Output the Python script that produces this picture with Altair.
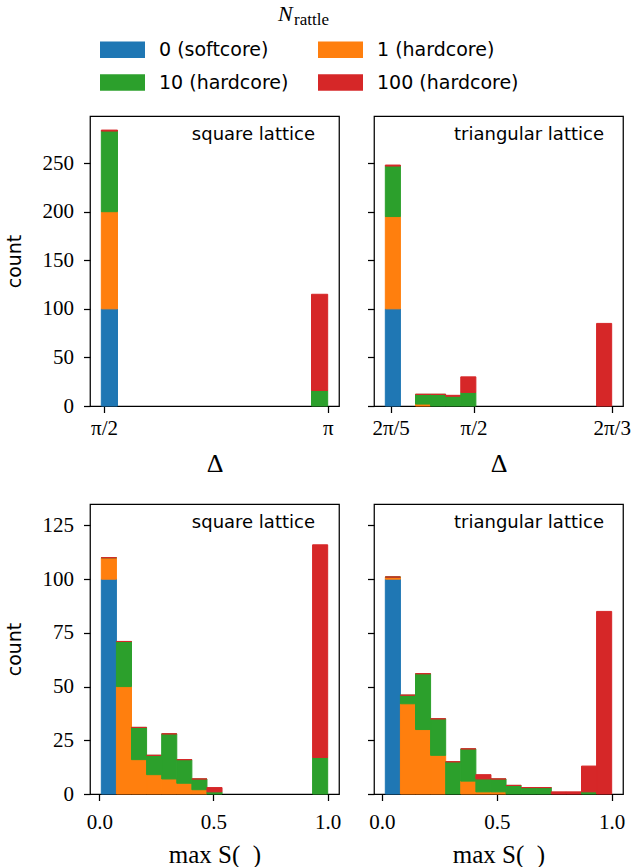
import numpy as np
import pandas as pd
import altair as alt

# ---------------- data ----------------
CATEGORIES = ["0 (softcore)", "1 (hardcore)", "10 (hardcore)", "100 (hardcore)"]
COLORS = ["#1f77b4", "#ff7f0e", "#2ca02c", "#d62728"]
LEGEND_ORDER = ["0 (softcore)", "10 (hardcore)", "1 (hardcore)", "100 (hardcore)"]
LEGEND_COLORS = ["#1f77b4", "#2ca02c", "#ff7f0e", "#d62728"]
LEGEND_TITLE_MAIN = "N"
LEGEND_TITLE_SUB = "rattle"

# Delta, square lattice (14 bins)
SQ_DELTA_BOUNDS = [1.552, np.pi]
SQ_DELTA_N0 = [100, 0, 0, 0, 0, 0, 0, 0, 0, 0, 0, 0, 0, 0]
SQ_DELTA_N1 = [100, 0, 0, 0, 0, 0, 0, 0, 0, 0, 0, 0, 0, 0]
SQ_DELTA_N10 = [83, 0, 0, 0, 0, 0, 0, 0, 0, 0, 0, 0, 0, 16]
SQ_DELTA_N100 = [1, 0, 0, 0, 0, 0, 0, 0, 0, 0, 0, 0, 0, 99]

# Delta, triangular lattice (15 bins)
TRI_DELTA_BOUNDS = [1.2366, 2 * np.pi / 3]
TRI_DELTA_N0 = [100, 0, 0, 0, 0, 0, 0, 0, 0, 0, 0, 0, 0, 0, 0]
TRI_DELTA_N1 = [95, 0, 2, 0, 0, 0, 0, 0, 0, 0, 0, 0, 0, 0, 0]
TRI_DELTA_N10 = [52, 0, 10, 12, 10, 14, 0, 0, 0, 0, 0, 0, 0, 0, 0]
TRI_DELTA_N100 = [1, 0, 0, 0, 1, 16, 0, 0, 0, 0, 0, 0, 0, 0, 85]

# max S, square lattice (15 bins)
SQ_S_BOUNDS = [0.0088, 1.0]
SQ_S_N0 = [100, 0, 0, 0, 0, 0, 0, 0, 0, 0, 0, 0, 0, 0, 0]
SQ_S_N1 = [10, 50, 16, 9, 7, 5, 2, 0, 0, 0, 0, 0, 0, 0, 0]
SQ_S_N10 = [0, 21, 15, 9, 21, 11, 5, 1, 0, 0, 0, 0, 0, 0, 17]
SQ_S_N100 = [0, 0, 0, 0, 0, 0, 0, 2, 0, 0, 0, 0, 0, 0, 99]

# max S, triangular lattice (15 bins)
TRI_S_BOUNDS = [0.0145, 1.0]
TRI_S_N0 = [100, 0, 0, 0, 0, 0, 0, 0, 0, 0, 0, 0, 0, 0, 0]
TRI_S_N1 = [1, 42, 30, 18, 0, 6, 1, 1, 0, 0, 0, 0, 0, 0, 0]
TRI_S_N10 = [0, 4, 26, 17, 15, 15, 6, 6, 4, 3, 3, 0, 0, 1, 0]
TRI_S_N100 = [0, 0, 0, 0, 0, 0, 2, 0, 0, 0, 0, 1, 1, 12, 85]

DELTA_SQ_TICKS = [np.pi / 2, np.pi]
DELTA_SQ_TICK_LABELS = ["π/2", "π"]
DELTA_TRI_TICKS = [2 * np.pi / 5, np.pi / 2, 2 * np.pi / 3]
DELTA_TRI_TICK_LABELS = ["2π/5", "π/2", "2π/3"]
S_TICKS = [0.0, 0.5, 1.0]
S_TICK_LABELS = ["0.0", "0.5", "1.0"]
TOP_Y_TICKS = [0, 50, 100, 150, 200, 250]
BOTTOM_Y_TICKS = [0, 25, 50, 75, 100, 125]
X_TITLE_DELTA = "Δ"
X_TITLE_S = "max S(\u00a0\u00a0)"

# ---------------- helpers ----------------
W, H = 249, 290
SERIF = "Liberation Serif"
SANS = "DejaVu Sans"


def build(bounds, counts_lists):
    nb = len(counts_lists[0])
    edges = np.linspace(bounds[0], bounds[1], nb + 1)
    rows = []
    for b in range(nb):
        base = 0
        for cat, counts in zip(CATEGORIES, counts_lists):
            c = counts[b]
            if c > 0 or base > 0:
                rows.append(dict(category=cat, x0=edges[b], x1=edges[b + 1],
                                 y0=base, y1=base + c))
            base += c
    return pd.DataFrame(rows)


def margin_domain(bounds):
    span = bounds[1] - bounds[0]
    return [bounds[0] - 0.05 * span, bounds[1] + 0.05 * span]


def label_expr(vals, labels):
    expr = "''"
    for v, l in reversed(list(zip(vals, labels))):
        expr = f"abs(datum.value - {v:.6f}) < 1e-4 ? '{l}' : ({expr})"
    return expr


def panel(df, bounds, ymax, xticks, xlabels, xtitle, xtitle_size, xlabel_pad,
          xtitle_pad, yticks, show_ylabels, ytitle, text, text_x,
          legend=None, extra=None):
    xaxis = alt.Axis(values=xticks, labelExpr=label_expr(xticks, xlabels),
                     title=xtitle, titleFont=SERIF, titleFontSize=xtitle_size,
                     labelPadding=xlabel_pad, titlePadding=xtitle_pad)
    if show_ylabels:
        yaxis = alt.Axis(values=yticks, title=ytitle, titleFont=SANS,
                         titleFontSize=19, titlePadding=18)
    else:
        yaxis = alt.Axis(values=yticks, labels=False, title=None)
    cscale = alt.Scale(domain=LEGEND_ORDER, range=LEGEND_COLORS)
    color = alt.Color("category:N", scale=cscale,
                      legend=legend if legend is not None else None)
    bars = alt.Chart(df).mark_rect(strokeWidth=1).encode(
        x=alt.X("x0:Q", scale=alt.Scale(domain=margin_domain(bounds), nice=False, zero=False),
                axis=xaxis),
        x2="x1:Q",
        y=alt.Y("y0:Q", scale=alt.Scale(domain=[0, ymax], nice=False), axis=yaxis),
        y2="y1:Q",
        color=color,
        stroke=alt.Stroke("category:N", scale=cscale, legend=None),
    )
    lab = alt.Chart(pd.DataFrame({"t": [text]})).mark_text(
        align="right", baseline="alphabetic", font=SANS, fontSize=18, color="black"
    ).encode(x=alt.value(text_x), y=alt.value(23.5), text="t:N")
    layers = [bars, lab]
    if extra is not None:
        layers += extra
    return alt.layer(*layers).properties(width=W, height=H)


legend = alt.Legend(
    orient="none", legendX=10, legendY=-89, columns=2, title=None,
    symbolType="M-1,-0.37H1V0.37H-1Z", symbolSize=2025, symbolStrokeWidth=0,
    symbolOpacity=1, labelFont=SANS, labelFontSize=19, labelColor="black",
    labelOffset=14, columnPadding=29, rowPadding=-3, padding=0,
)

title_n = alt.Chart(pd.DataFrame({"t": [LEGEND_TITLE_MAIN]})).mark_text(
    align="left", baseline="alphabetic", font=SERIF, fontSize=22, fontStyle="italic", color="black"
).encode(x=alt.value(188), y=alt.value(-95), text="t:N")
title_sub = alt.Chart(pd.DataFrame({"t": [LEGEND_TITLE_SUB]})).mark_text(
    align="left", baseline="alphabetic", font=SERIF, fontSize=17, color="black"
).encode(x=alt.value(204), y=alt.value(-91), text="t:N")

tl = panel(build(SQ_DELTA_BOUNDS, [SQ_DELTA_N0, SQ_DELTA_N1, SQ_DELTA_N10, SQ_DELTA_N100]),
           SQ_DELTA_BOUNDS, 298.5, DELTA_SQ_TICKS, DELTA_SQ_TICK_LABELS, X_TITLE_DELTA, 26, 5, 12,
           TOP_Y_TICKS, True, "count", "square lattice", 225, legend=legend,
           extra=[title_n, title_sub])
tr = panel(build(TRI_DELTA_BOUNDS, [TRI_DELTA_N0, TRI_DELTA_N1, TRI_DELTA_N10, TRI_DELTA_N100]),
           TRI_DELTA_BOUNDS, 298.5, DELTA_TRI_TICKS, DELTA_TRI_TICK_LABELS, X_TITLE_DELTA, 26, 5, 12,
           TOP_Y_TICKS, False, None, "triangular lattice", 230)
bl = panel(build(SQ_S_BOUNDS, [SQ_S_N0, SQ_S_N1, SQ_S_N10, SQ_S_N100]),
           SQ_S_BOUNDS, 135, S_TICKS, S_TICK_LABELS, X_TITLE_S, 25, 11, 10,
           BOTTOM_Y_TICKS, True, "count", "square lattice", 225)
br = panel(build(TRI_S_BOUNDS, [TRI_S_N0, TRI_S_N1, TRI_S_N10, TRI_S_N100]),
           TRI_S_BOUNDS, 135, S_TICKS, S_TICK_LABELS, X_TITLE_S, 25, 11, 10,
           BOTTOM_Y_TICKS, False, None, "triangular lattice", 230)

chart = alt.concat(
    tl, tr, bl, br, columns=2, spacing={"row": 98, "column": 35}, bounds="flush"
).resolve_scale(
    color="independent", stroke="independent"
).configure_view(stroke="black", strokeWidth=1.25).configure_axis(
    domain=False, grid=False, ticks=True, tickColor="black", tickWidth=1.25,
    tickSize=6.5, labelFont=SERIF, labelFontSize=21, labelColor="black",
    labelFlush=False, labelOverlap=False,
    titleFontWeight="normal", titleColor="black",
).configure_axisY(labelPadding=10).properties(
    padding={"left": 4, "top": 2, "right": 0, "bottom": 0}
)

chart.save("out.html", embed_options={"renderer": "svg", "actions": False})
